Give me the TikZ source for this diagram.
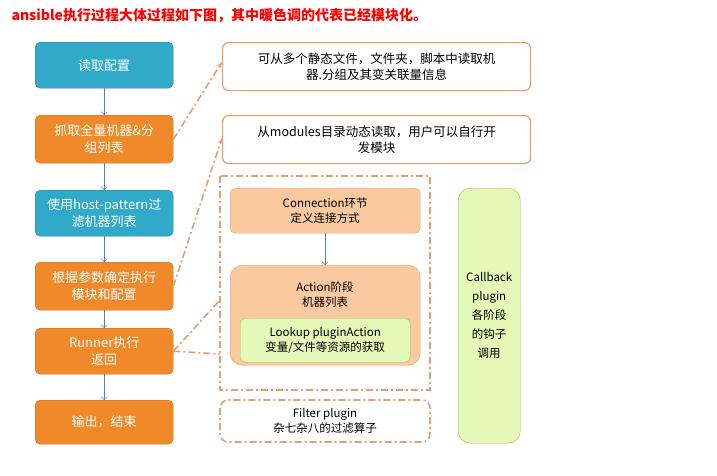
\documentclass[tikz,border=0pt]{standalone}
\usepackage{fontspec}
\setmainfont{Noto Sans CJK SC}
\usetikzlibrary{arrows.meta}
\definecolor{teal1}{HTML}{31A9C9}
\definecolor{org1}{HTML}{F0892A}
\definecolor{orgb}{HTML}{E8A060}
\definecolor{lorg}{HTML}{FBC9A0}
\definecolor{lgrn}{HTML}{E4F8B8}
\definecolor{grnb}{HTML}{9BBB59}
\definecolor{dashc}{HTML}{E0A070}
\definecolor{arr}{HTML}{4F81BD}
\begin{document}
\begin{tikzpicture}[x=1pt,y=-1pt,
 lbox/.style={rounded corners=5pt,text=white,align=center,font=\fontsize{13}{17}\selectfont,inner sep=0pt},
 tealbox/.style={lbox,fill=teal1,draw=teal1!80!black},
 orgbox/.style={lbox,fill=org1,draw=org1!80!black},
 wbox/.style={rounded corners=6pt,draw=orgb,line width=1.2pt,fill=white,align=center,font=\fontsize{12.5}{16}\selectfont},
 dd/.style={draw=dashc,line width=1.6pt,dash pattern=on 7pt off 3pt on 2pt off 3pt},
 ddarr/.style={dd,-{Stealth[length=6pt]}},
 flow/.style={draw=arr,-{Straight Barb[length=3pt]}},
 txt/.style={font=\fontsize{11.5}{15}\selectfont,align=center}]
\useasboundingbox (0,0) rectangle (717,475);
\node[anchor=west,text=red,font=\bfseries\fontsize{14}{16}\selectfont] (title) at (8,16) {ansible执行过程大体过程如下图，其中暖色调的代表已经模块化。};
\path (35,42) node[tealbox,minimum width=138pt,minimum height=46pt,anchor=north west] (b1) {读取配置};
\path (35,115) node[orgbox,minimum width=138pt,minimum height=48pt,anchor=north west] (b2) {抓取全量机器\&分\\组列表};
\path (35,190) node[tealbox,minimum width=138pt,minimum height=46pt,anchor=north west] (b3) {使用host-pattern过\\滤机器列表};
\path (35,262) node[orgbox,minimum width=138pt,minimum height=48pt,anchor=north west] (b4) {根据参数确定执行\\模块和配置};
\path (35,328) node[orgbox,minimum width=138pt,minimum height=46pt,anchor=north west] (b5) {Runner执行\\返回};
\path (35,400) node[orgbox,minimum width=138pt,minimum height=44pt,anchor=north west] (b6) {输出，结束};
\foreach \a/\b in {b1/b2,b2/b3,b3/b4,b4/b5,b5/b6} \draw[flow] (\a) -- (\b);
\path (222,42) node[wbox,minimum width=308pt,minimum height=48pt,anchor=north west] (ra) {可从多个静态文件，文件夹，脚本中读取机\\器.分组及其变关联量信息};
\path (222,115) node[wbox,minimum width=308pt,minimum height=48pt,anchor=north west] (rb) {从modules目录动态读取，用户可以自行开\\发模块};
\draw[dd] (220,176) rectangle (430,390);
\coordinate (ddtop) at (220,300);
\coordinate (ddmid) at (220,354);
\path (230,188) node[draw=orgb,fill=lorg,rounded corners=5pt,minimum width=190pt,minimum height=45pt,anchor=north west,txt] (conn) {Connection环节\\定义连接方式};
\path (230,265) node[draw=orgb,fill=lorg,rounded corners=12pt,minimum width=190pt,minimum height=100pt,anchor=north west] (act) {};
\node[txt,anchor=north] (actt) at (325,278) {Action阶段\\机器列表};
\path (240,318) node[draw=grnb,fill=lgrn,rounded corners=5pt,minimum width=170pt,minimum height=44pt,anchor=north west,txt] (look) {Lookup pluginAction\\变量/文件等资源的获取};
\draw[flow] (conn) -- (act);
\draw[dd,rounded corners=8pt] (220,400) rectangle (430,442);
\node[txt] (filt) at (325,421) {Filter plugin\\杂七杂八的过滤算子};
\path (458,188) node[draw=grnb,fill=lgrn,rounded corners=12pt,minimum width=62pt,minimum height=255pt,anchor=north west,font=\fontsize{11.5}{19}\selectfont,align=center] (cb) {Callback\\plugin\\各阶段\\的钩子\\调用};
\draw[ddarr] (b2.east) -- (ra.west |- 0,62);
\draw[ddarr] (b4.east) -- (rb.west |- 0,138);
\draw[dd] (b5.east) -- (ddtop);
\draw[dd] (b5.east) -- (ddmid);
\end{tikzpicture}
\end{document}
